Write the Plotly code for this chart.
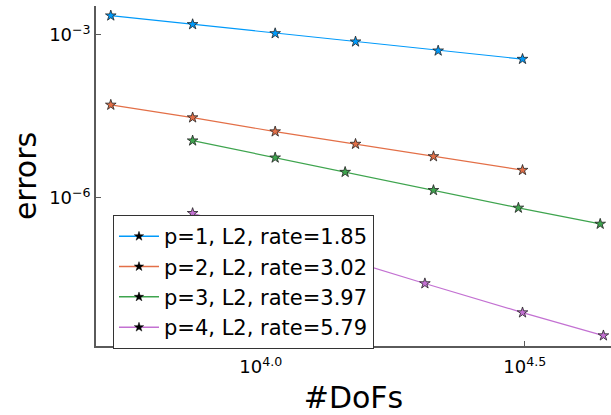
import plotly.graph_objects as go

# ---- data ----
dofs_p1 = [5200, 7430, 10650, 15120, 21680, 31320]
err_p1 = [2.27e-3, 1.57e-3, 1.07e-3, 7.53e-4, 5.13e-4, 3.60e-4]

dofs_p2 = [5200, 7430, 10650, 15120, 21240, 31320]
err_p2 = [5.15e-5, 3.01e-5, 1.66e-5, 9.8e-6, 5.79e-6, 3.24e-6]

dofs_p3 = [7430, 10650, 14450, 21240, 30760, 43950]
err_p3 = [1.13e-5, 5.48e-6, 2.98e-6, 1.38e-6, 6.53e-7, 3.30e-7]

dofs_p4 = [7430, 10650, 14450, 20460, 31320, 44570]
err_p4 = [5.20e-7, 1.87e-7, 7.44e-8, 2.64e-8, 7.69e-9, 2.90e-9]

series_names = ["p=1, L2, rate=1.85", "p=2, L2, rate=3.02",
                "p=3, L2, rate=3.97", "p=4, L2, rate=5.79"]
series_colors = ["#009AFA", "#E36F47", "#3EA44E", "#C371D2"]

x_tickvals = [1e4, 10 ** 4.5]
x_ticktext = ["10<sup>4.0</sup>", "10<sup>4.5</sup>"]
y_tickvals = [1e-3, 1e-6]
y_ticktext = ["10<sup>\u22123</sup>", "10<sup>\u22126</sup>"]

FONT = "DejaVu Sans"
AXIS_COLOR = "#5a5a5a"

fig = go.Figure()
all_x = [dofs_p1, dofs_p2, dofs_p3, dofs_p4]
all_y = [err_p1, err_p2, err_p3, err_p4]

for xs, ys, name, col in zip(all_x, all_y, series_names, series_colors):
    fig.add_trace(go.Scatter(
        x=xs, y=ys, mode="lines+markers", name=name, showlegend=False,
        line=dict(color=col, width=1.2),
        marker=dict(symbol="star", size=8, color=col,
                    line=dict(color="#222222", width=0.8)),
    ))

# legend entries (line in series colour, black star marker)
for name, col in zip(series_names, series_colors):
    fig.add_trace(go.Scatter(
        x=[None], y=[None], mode="lines+markers", name=name,
        line=dict(color=col, width=1.5),
        marker=dict(symbol="star", size=7, color="black",
                    line=dict(color="black", width=0.5)),
    ))

fig.update_layout(
    width=611, height=415,
    margin=dict(l=96, r=0, t=6, b=69, autoexpand=False),
    paper_bgcolor="white", plot_bgcolor="white",
    font=dict(family=FONT, color="black"),
    legend=dict(
        x=0.033, y=0.385, xanchor="left", yanchor="top",
        bgcolor="white", bordercolor="#333333", borderwidth=1,
        font=dict(size=21, family=FONT, color="black"),
        tracegroupgap=0, itemwidth=40,
    ),
)

fig.update_xaxes(
    type="log", range=[3.688, 4.6634], automargin=False,
    showgrid=False, zeroline=False,
    showline=True, linecolor=AXIS_COLOR, linewidth=1.5, mirror=False,
    ticks="inside", ticklen=5, tickcolor=AXIS_COLOR, tickwidth=1,
    tickvals=x_tickvals, ticktext=x_ticktext, ticklabelstandoff=4,
    tickfont=dict(size=18, family=FONT, color="black"),
    title=dict(text="#DoFs", font=dict(size=30, family=FONT, color="black"),
               standoff=13),
)
fig.update_yaxes(
    type="log", range=[-8.73, -2.466], automargin=False,
    showgrid=False, zeroline=False,
    showline=True, linecolor=AXIS_COLOR, linewidth=1.5, mirror=False,
    ticks="inside", ticklen=5, tickcolor=AXIS_COLOR, tickwidth=1,
    tickvals=y_tickvals, ticktext=y_ticktext,
    tickfont=dict(size=18, family=FONT, color="black"),
    title=dict(text="errors", font=dict(size=30, family=FONT, color="black"),
               standoff=4),
)

fig.write_html("out.html", config={"displayModeBar": False},
               post_script="document.body.style.margin='0px';")
